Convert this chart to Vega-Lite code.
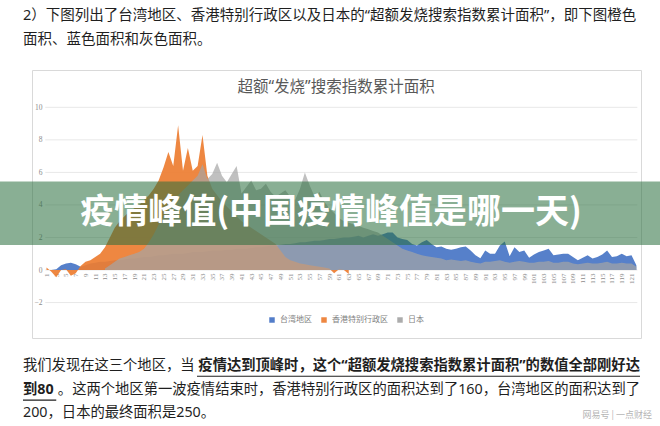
{
  "$schema": "https://vega.github.io/schema/vega-lite/v6.json",
  "autosize": {"type": "none"},
  "padding": {"left": 32, "top": 70, "right": 19, "bottom": 88},
  "width": 609,
  "height": 268,
  "background": "white",
  "title": {
    "text": ["2）下图列出了台湾地区、香港特别行政区以及日本的“超额发烧搜索指数累计面积”，即下图橙色", "面积、蓝色面积和灰色面积。"],
    "anchor": "start",
    "frame": "group",
    "orient": "top",
    "dx": -9,
    "offset": 23,
    "fontSize": 14.5,
    "fontWeight": "normal",
    "color": "#1f1f1f",
    "font": "Noto Sans, Noto Sans CJK SC",
    "lineHeight": 24
  },
  "data": {"values": [
    {"d":1,"tw":0,"hk":0.15,"jp":null},{"d":2,"tw":0,"hk":-0.1,"jp":null},{"d":3,"tw":0.05,"hk":-0.45,"jp":null},{"d":4,"tw":0.3,"hk":0,"jp":null},{"d":5,"tw":0.4,"hk":0.05,"jp":null},
    {"d":6,"tw":0.45,"hk":-0.35,"jp":null},{"d":7,"tw":0.35,"hk":-0.2,"jp":null},{"d":8,"tw":0.2,"hk":0.25,"jp":null},{"d":9,"tw":0.3,"hk":0.5,"jp":null},{"d":10,"tw":0.4,"hk":0.6,"jp":null},
    {"d":11,"tw":0.45,"hk":0.8,"jp":null},{"d":12,"tw":0.5,"hk":1.0,"jp":null},{"d":13,"tw":0.5,"hk":1.4,"jp":0.1},{"d":14,"tw":0.55,"hk":2.0,"jp":0.3},{"d":15,"tw":0.6,"hk":2.6,"jp":0.5},
    {"d":16,"tw":0.6,"hk":3.0,"jp":0.7},{"d":17,"tw":0.65,"hk":3.3,"jp":0.8},{"d":18,"tw":0.7,"hk":3.6,"jp":0.9},{"d":19,"tw":0.7,"hk":3.8,"jp":1.0},{"d":20,"tw":0.75,"hk":4.0,"jp":1.1},
    {"d":21,"tw":0.8,"hk":4.3,"jp":1.3},{"d":22,"tw":0.8,"hk":4.6,"jp":1.7},{"d":23,"tw":0.85,"hk":5.0,"jp":2.2},{"d":24,"tw":0.9,"hk":5.5,"jp":2.8},{"d":25,"tw":0.9,"hk":6.3,"jp":3.3},
    {"d":26,"tw":0.95,"hk":7.25,"jp":3.8},{"d":27,"tw":1.0,"hk":6.4,"jp":4.3},{"d":28,"tw":1.0,"hk":8.9,"jp":4.6},{"d":29,"tw":1.0,"hk":6.1,"jp":4.9},{"d":30,"tw":1.05,"hk":7.5,"jp":5.2},
    {"d":31,"tw":1.1,"hk":6.1,"jp":5.5},{"d":32,"tw":1.1,"hk":6.4,"jp":5.8},{"d":33,"tw":1.1,"hk":8.3,"jp":6.5},{"d":34,"tw":1.15,"hk":5.8,"jp":5.6},{"d":35,"tw":1.2,"hk":5.0,"jp":5.9},
    {"d":36,"tw":1.2,"hk":4.6,"jp":6.6},{"d":37,"tw":1.2,"hk":4.2,"jp":5.8},{"d":38,"tw":1.25,"hk":3.9,"jp":5.4},{"d":39,"tw":1.25,"hk":3.6,"jp":5.9},{"d":40,"tw":1.3,"hk":3.3,"jp":6.4},
    {"d":41,"tw":1.3,"hk":3.0,"jp":4.7},{"d":42,"tw":1.3,"hk":2.8,"jp":5.1},{"d":43,"tw":1.35,"hk":2.6,"jp":5.5},{"d":44,"tw":1.4,"hk":2.4,"jp":4.9},{"d":45,"tw":1.4,"hk":2.2,"jp":5.0},
    {"d":46,"tw":1.45,"hk":2.0,"jp":5.3},{"d":47,"tw":1.5,"hk":1.8,"jp":4.8},{"d":48,"tw":1.5,"hk":1.6,"jp":4.5},{"d":49,"tw":1.55,"hk":1.2,"jp":4.7},{"d":50,"tw":1.6,"hk":0.8,"jp":4.9},
    {"d":51,"tw":1.6,"hk":0.6,"jp":4.5},{"d":52,"tw":1.65,"hk":0.5,"jp":4.3},{"d":53,"tw":1.7,"hk":0.4,"jp":5.0},{"d":54,"tw":1.7,"hk":0.35,"jp":6.0},{"d":55,"tw":1.75,"hk":0.3,"jp":5.2},
    {"d":56,"tw":1.8,"hk":0.25,"jp":4.5},{"d":57,"tw":1.8,"hk":0.2,"jp":4.8},{"d":58,"tw":1.85,"hk":0.15,"jp":4.2},{"d":59,"tw":1.9,"hk":0.1,"jp":3.8},{"d":60,"tw":1.9,"hk":-0.2,"jp":3.5},
    {"d":61,"tw":1.95,"hk":0.05,"jp":3.2},{"d":62,"tw":2.0,"hk":0.0,"jp":3.0},{"d":63,"tw":2.0,"hk":-0.25,"jp":2.9},{"d":64,"tw":2.05,"hk":null,"jp":2.8},{"d":65,"tw":2.1,"hk":null,"jp":2.7},
    {"d":66,"tw":2.0,"hk":null,"jp":2.6},{"d":67,"tw":2.1,"hk":null,"jp":2.5},{"d":68,"tw":2.2,"hk":null,"jp":2.4},{"d":69,"tw":2.1,"hk":null,"jp":2.3},{"d":70,"tw":2.2,"hk":null,"jp":2.1},
    {"d":71,"tw":2.3,"hk":null,"jp":1.9},{"d":72,"tw":2.3,"hk":null,"jp":1.7},{"d":73,"tw":2.0,"hk":null,"jp":1.5},{"d":74,"tw":1.9,"hk":null,"jp":1.3},{"d":75,"tw":1.85,"hk":null,"jp":1.2},
    {"d":76,"tw":1.6,"hk":null,"jp":1.1},{"d":77,"tw":1.5,"hk":null,"jp":1.0},{"d":78,"tw":1.7,"hk":null,"jp":0.9},{"d":79,"tw":1.85,"hk":null,"jp":0.85},{"d":80,"tw":1.6,"hk":null,"jp":0.8},
    {"d":81,"tw":1.4,"hk":null,"jp":0.75},{"d":82,"tw":1.45,"hk":null,"jp":0.7},{"d":83,"tw":1.3,"hk":null,"jp":0.6},{"d":84,"tw":1.25,"hk":null,"jp":0.65},{"d":85,"tw":1.3,"hk":null,"jp":0.6},
    {"d":86,"tw":1.4,"hk":null,"jp":0.55},{"d":87,"tw":1.45,"hk":null,"jp":0.6},{"d":88,"tw":1.2,"hk":null,"jp":0.5},{"d":89,"tw":0.9,"hk":null,"jp":0.45},{"d":90,"tw":0.72,"hk":null,"jp":0.4},
    {"d":91,"tw":1.2,"hk":null,"jp":0.5},{"d":92,"tw":1.0,"hk":null,"jp":0.5},{"d":93,"tw":1.0,"hk":null,"jp":0.55},{"d":94,"tw":1.5,"hk":null,"jp":0.6},{"d":95,"tw":1.75,"hk":null,"jp":0.5},
    {"d":96,"tw":0.85,"hk":null,"jp":0.45},{"d":97,"tw":1.4,"hk":null,"jp":0.5},{"d":98,"tw":1.1,"hk":null,"jp":0.55},{"d":99,"tw":1.2,"hk":null,"jp":0.5},{"d":100,"tw":0.75,"hk":null,"jp":0.45},
    {"d":101,"tw":0.95,"hk":null,"jp":0.45},{"d":102,"tw":1.1,"hk":null,"jp":0.5},{"d":103,"tw":1.2,"hk":null,"jp":0.5},{"d":104,"tw":1.3,"hk":null,"jp":0.55},{"d":105,"tw":0.9,"hk":null,"jp":0.45},
    {"d":106,"tw":0.95,"hk":null,"jp":0.45},{"d":107,"tw":1.0,"hk":null,"jp":0.5},{"d":108,"tw":1.0,"hk":null,"jp":0.5},{"d":109,"tw":0.8,"hk":null,"jp":0.4},{"d":110,"tw":0.6,"hk":null,"jp":0.35},
    {"d":111,"tw":0.75,"hk":null,"jp":0.4},{"d":112,"tw":0.9,"hk":null,"jp":0.45},{"d":113,"tw":0.7,"hk":null,"jp":0.4},{"d":114,"tw":0.8,"hk":null,"jp":0.4},{"d":115,"tw":0.95,"hk":null,"jp":0.45},
    {"d":116,"tw":1.2,"hk":null,"jp":0.5},{"d":117,"tw":0.8,"hk":null,"jp":0.4},{"d":118,"tw":0.85,"hk":null,"jp":0.4},{"d":119,"tw":1.0,"hk":null,"jp":0.45},{"d":120,"tw":0.85,"hk":null,"jp":0.4},
    {"d":121,"tw":0.9,"hk":null,"jp":0.4},{"d":122,"tw":0.3,"hk":null,"jp":0.2}
  ]},
  "layer": [
    {
      "data": {"values": [{"g":-2},{"g":0},{"g":2},{"g":4},{"g":6},{"g":8},{"g":10}]},
      "mark": {"type": "rule", "color": "#e8e8e8", "strokeWidth": 1},
      "encoding": {
        "y": {"field": "g", "type": "quantitative", "title": null},
        "x": {"datum": 0.75, "type": "quantitative"},
        "x2": {"datum": 122.2}
      }
    },
    {
      "mark": {"type": "area", "opacity": 0.9},
      "encoding": {
        "x": {"field": "d", "type": "quantitative", "title": null,
          "scale": {"domain": [-1.974, 122.949], "nice": false, "zero": false},
          "axis": {"orient": "bottom", "offset": -68, "tickCount": 200, "values": [1,3,5,7,9,11,13,15,17,19,21,23,25,27,29,31,33,35,37,39,41,43,45,47,49,51,53,55,57,59,61,63,65,67,69,71,73,75,77,79,81,83,85,87,89,91,93,95,97,99,101,103,105,107,109,111,113,115,117,119,121],
            "labelAngle": 270, "labelFontSize": 7, "labelColor": "#8c8c8c", "labelFont": "Liberation Serif", "domain": false, "ticks": false, "grid": false, "labelPadding": 3, "labelOverlap": false, "labelBound": false, "format": "d", "title": null}},
        "y": {"field": "tw", "type": "quantitative", "title": null,
          "scale": {"domain": [-4.179, 12.293], "nice": false, "zero": false},
          "axis": {"orient": "left", "offset": -10, "values": [-2,0,2,4,6,8,10], "format": "d", "labelFontSize": 7.5, "labelColor": "#8c8c8c", "labelFont": "Liberation Serif", "domain": false, "ticks": false, "grid": false, "labelPadding": 0, "title": null}},
        "color": {"datum": "台湾地区", "type": "nominal",
          "scale": {"domain": ["台湾地区", "香港特别行政区", "日本"], "range": ["#4472c4", "#ed7d31", "#a5a5a5"]},
          "legend": {"orient": "none", "legendX": 236, "legendY": 246, "direction": "horizontal", "title": null, "symbolType": "square", "symbolSize": 30, "labelFontSize": 8, "labelColor": "#7f7f7f", "labelFont": "Noto Sans CJK SC", "columnPadding": 8, "symbolOpacity": 1}}
      }
    },
    {
      "mark": {"type": "area", "opacity": 0.92},
      "encoding": {
        "x": {"field": "d", "type": "quantitative", "title": null},
        "y": {"field": "hk", "type": "quantitative", "title": null},
        "color": {"datum": "香港特别行政区", "type": "nominal"}
      }
    },
    {
      "mark": {"type": "area", "opacity": 0.7},
      "encoding": {
        "x": {"field": "d", "type": "quantitative", "title": null},
        "y": {"field": "jp", "type": "quantitative", "title": null},
        "color": {"datum": "日本", "type": "nominal"}
      }
    },
    {
      "data": {"values": [{"t": "超额“发烧”搜索指数累计面积"}]},
      "mark": {"type": "text", "fontSize": 15.5, "color": "#595959", "font": "Noto Sans, Noto Sans CJK SC", "align": "center", "baseline": "middle"},
      "encoding": {"text": {"field": "t"}, "x": {"datum": 60.4, "type": "quantitative"}, "y": {"datum": 11.22, "type": "quantitative"}}
    },
    {
      "data": {"values": [{}]},
      "mark": {"type": "rect", "color": "#286e3c", "opacity": 0.55},
      "encoding": {"x": {"datum": -8.6, "type": "quantitative"}, "x2": {"datum": 127}, "y": {"datum": 5.44, "type": "quantitative"}, "y2": {"datum": 1.537}}
    },
    {
      "data": {"values": [{"t": "疫情峰值(中国疫情峰值是哪一天)"}]},
      "mark": {"type": "text", "fontSize": 34, "fontWeight": "bold", "color": "white", "font": "Noto Sans CJK SC", "align": "center", "baseline": "middle"},
      "encoding": {"text": {"field": "t"}, "x": {"datum": 59.36, "type": "quantitative"}, "y": {"datum": 3.53, "type": "quantitative"}}
    },
    {
      "data": {"values": [{"t": "我们发现在这三个地区，当"}]},
      "mark": {"type": "text", "fontSize": 14.3, "color": "#1f1f1f", "font": "Noto Sans, Noto Sans CJK SC", "align": "left", "baseline": "middle"},
      "encoding": {"text": {"field": "t"}, "x": {"datum": -3.82, "type": "quantitative"}, "y": {"datum": -5.9, "type": "quantitative"}}
    },
    {
      "data": {"values": [{"t": "疫情达到顶峰时，这个“超额发烧搜索指数累计面积”的数值全部刚好达"}]},
      "mark": {"type": "text", "fontSize": 14.3, "fontWeight": "bold", "color": "#1f1f1f", "font": "Noto Sans, Noto Sans CJK SC", "align": "right", "baseline": "middle"},
      "encoding": {"text": {"field": "t"}, "x": {"datum": 122.74, "type": "quantitative"}, "y": {"datum": -5.9, "type": "quantitative"}}
    },
    {
      "data": {"values": [{}]},
      "mark": {"type": "rule", "color": "#1f1f1f", "strokeWidth": 1.2},
      "encoding": {"x": {"datum": 31.87, "type": "quantitative"}, "x2": {"datum": 122.74}, "y": {"datum": -6.53, "type": "quantitative"}}
    },
    {
      "data": {"values": [{"t": "到80"}]},
      "mark": {"type": "text", "fontSize": 14.3, "fontWeight": "bold", "color": "#1f1f1f", "font": "Noto Sans, Noto Sans CJK SC", "align": "left", "baseline": "middle"},
      "encoding": {"text": {"field": "t"}, "x": {"datum": -3.82, "type": "quantitative"}, "y": {"datum": -7.37, "type": "quantitative"}}
    },
    {
      "data": {"values": [{}]},
      "mark": {"type": "rule", "color": "#1f1f1f", "strokeWidth": 1.2},
      "encoding": {"x": {"datum": -3.82, "type": "quantitative"}, "x2": {"datum": 3.0}, "y": {"datum": -8.0, "type": "quantitative"}}
    },
    {
      "data": {"values": [{"t": "。这两个地区第一波疫情结束时，香港特别行政区的面积达到了160，台湾地区的面积达到了"}]},
      "mark": {"type": "text", "fontSize": 14.3, "color": "#1f1f1f", "font": "Noto Sans, Noto Sans CJK SC", "align": "right", "baseline": "middle"},
      "encoding": {"text": {"field": "t"}, "x": {"datum": 122.74, "type": "quantitative"}, "y": {"datum": -7.37, "type": "quantitative"}}
    },
    {
      "data": {"values": [{"t": "200，日本的最终面积是250。"}]},
      "mark": {"type": "text", "fontSize": 14.3, "color": "#1f1f1f", "font": "Noto Sans, Noto Sans CJK SC", "align": "left", "baseline": "middle"},
      "encoding": {"text": {"field": "t"}, "x": {"datum": -3.82, "type": "quantitative"}, "y": {"datum": -8.79, "type": "quantitative"}}
    },
    {
      "data": {"values": [{"t": "网易号 | 一点财经"}]},
      "mark": {"type": "text", "fontSize": 9, "color": "#b5b5b5", "font": "Noto Sans CJK SC", "align": "right", "baseline": "middle"},
      "encoding": {"text": {"field": "t"}, "x": {"datum": 125.2, "type": "quantitative"}, "y": {"datum": -8.91, "type": "quantitative"}}
    }
  ],
  "config": {
    "view": {"stroke": "#d9d9d9", "strokeWidth": 1},
    "font": "Noto Sans CJK SC"
  }
}
